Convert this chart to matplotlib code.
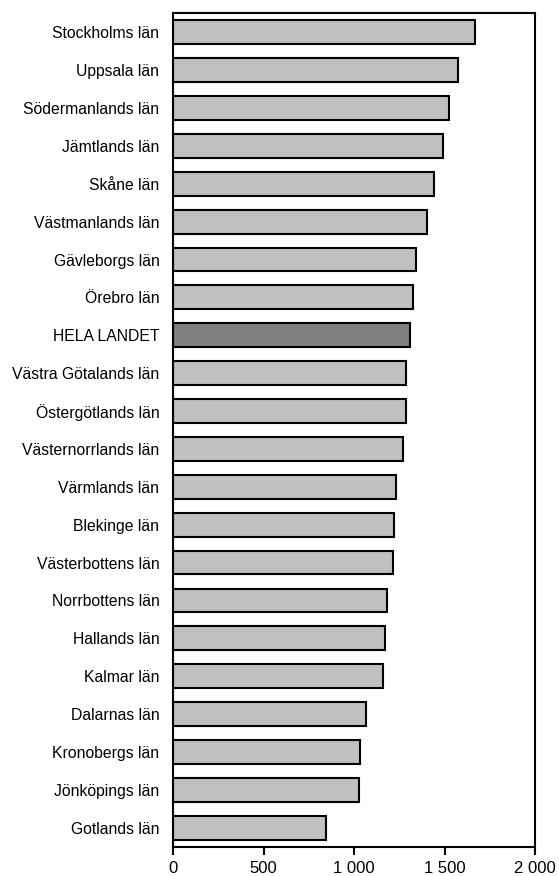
import matplotlib
matplotlib.use("Agg")
from matplotlib import pyplot as plt
from matplotlib.ticker import FuncFormatter

plt.rcParams['font.family'] = ['Liberation Sans', 'DejaVu Sans']

# county values, top to bottom as in the chart
regions = ['Stockholms län', 'Uppsala län', 'Södermanlands län', 'Jämtlands län',
           'Skåne län', 'Västmanlands län', 'Gävleborgs län', 'Örebro län',
           'HELA LANDET', 'Västra Götalands län', 'Östergötlands län',
           'Västernorrlands län', 'Värmlands län', 'Blekinge län',
           'Västerbottens län', 'Norrbottens län', 'Hallands län', 'Kalmar län',
           'Dalarnas län', 'Kronobergs län', 'Jönköpings län', 'Gotlands län']
values = [1668, 1576, 1526, 1491, 1440, 1401, 1342, 1323, 1307, 1286, 1286,
          1272, 1229, 1222, 1215, 1180, 1172, 1158, 1067, 1031, 1025, 846]
xticks = [0, 500, 1000, 1500, 2000]

colors = ['#808080' if r == 'HELA LANDET' else '#c0c0c0' for r in regions]
ypos = list(range(len(regions)))

fig = plt.figure(figsize=(5.59, 8.76), dpi=100)
ax = fig.add_axes([0.310, 0.0335, 0.647, 0.9513])

ax.barh(ypos, values, height=0.63, color=colors, edgecolor='black', linewidth=1.5)

ax.set_ylim(len(regions) - 0.5, -0.5)
ax.set_xlim(0, 2000)
ax.set_yticks(ypos)
ax.set_yticklabels(regions, fontsize=11.3)
ax.set_xticks(xticks)
ax.xaxis.set_major_formatter(FuncFormatter(lambda v, p: f"{int(v):,}".replace(",", " ")))

ax.tick_params(axis='y', length=0, pad=10)
ax.tick_params(axis='x', length=6, width=1.5, labelsize=12, pad=4)

for s in ax.spines.values():
    s.set_linewidth(1.5)

plt.savefig('out.png', dpi=100)
plt.close()
